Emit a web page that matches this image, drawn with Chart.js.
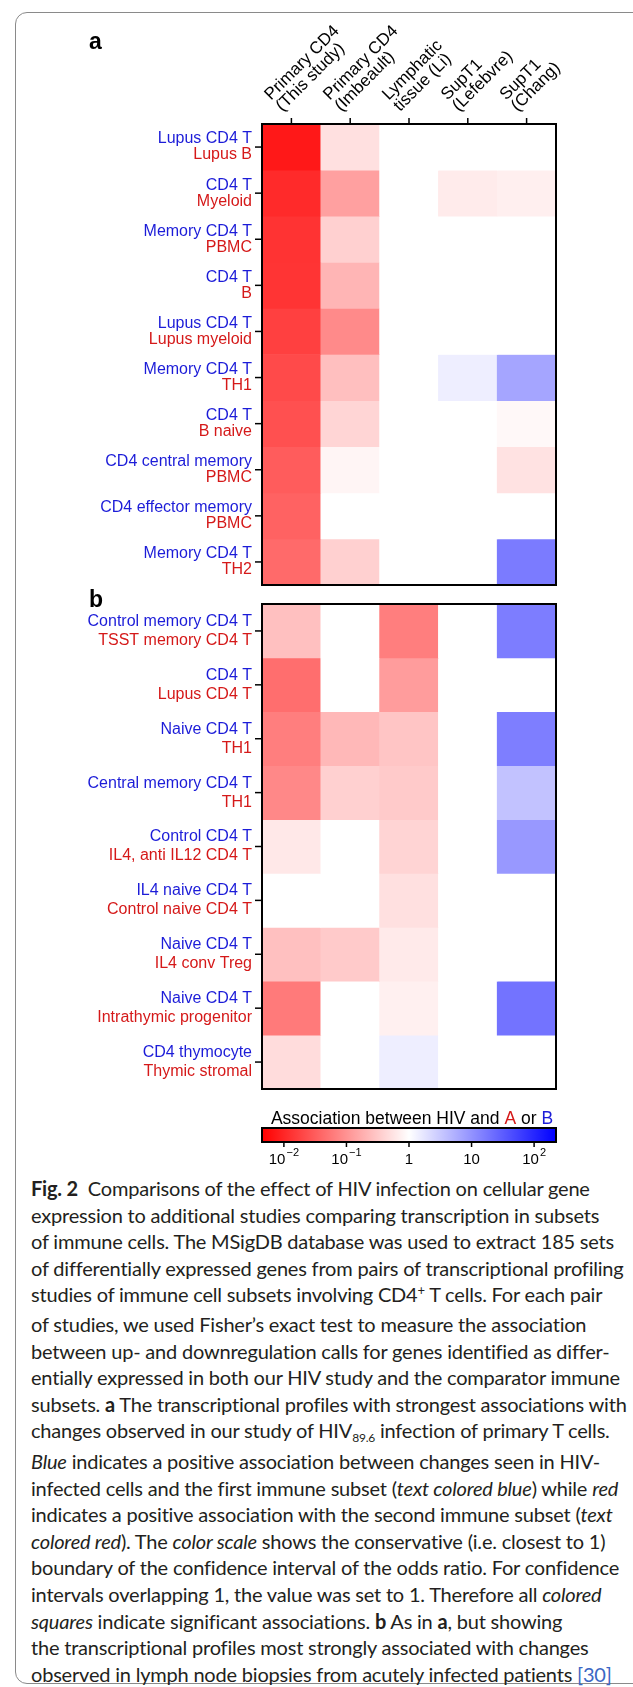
<!DOCTYPE html>
<html>
<head>
<meta charset="utf-8">
<title>Fig. 2</title>
<script src="https://cdn.jsdelivr.net/npm/chart.js@4.4.0/dist/chart.umd.min.js"></script>
<style>
    html, body { margin: 0; padding: 0; background: #fff; overflow: hidden; }
    #page { position: relative; width: 633px; height: 1687px; overflow: hidden; }
    #frame {
        position: absolute; left: 15px; top: 12px; width: 720px; height: 1672px;
        border: 1.5px solid #8a8a8a; border-radius: 12px; box-sizing: border-box;
    }
    canvas { position: absolute; left: 0; }
    #caption {
        position: absolute; left: 31px; top: 1175px;
        font-family: Lato, "Open Sans", sans-serif; font-size: 20px; line-height: 26.6px;
        color: #231f20; white-space: nowrap; letter-spacing: -0.2px;
    }
    #caption b { font-weight: 700; }
    #caption sup { font-size: 0.65em; position: relative; top: -0.55em; vertical-align: baseline; }
    #caption sub { font-size: 0.6em; position: relative; top: 0.3em; vertical-align: baseline; }
    #caption .ref { color: #3b67c4; }
</style>
</head>
<body>
<div id="page">
    <div id="frame"></div>
    <canvas id="chartA" width="633" height="600" style="top:0"></canvas>
    <canvas id="chartB" width="633" height="512" style="top:588px"></canvas>
    <canvas id="scaleBar" width="633" height="80" style="top:1095px"></canvas>
    <div id="caption">
<b>Fig. 2</b>&nbsp; Comparisons of the effect of HIV infection on cellular gene<br>
expression to additional studies comparing transcription in subsets<br>
of immune cells. The MSigDB database was used to extract 185 sets<br>
of differentially expressed genes from pairs of transcriptional profiling<br>
studies of immune cell subsets involving CD4<sup>+</sup> T cells. For each pair<br>
of studies, we used Fisher’s exact test to measure the association<br>
between up- and downregulation calls for genes identified as differ-<br>
entially expressed in both our HIV study and the comparator immune<br>
subsets. <b>a</b> The transcriptional profiles with strongest associations with<br>
changes observed in our study of HIV<sub>89.6</sub> infection of primary T cells.<br>
<i>Blue</i> indicates a positive association between changes seen in HIV-<br>
infected cells and the first immune subset (<i>text colored blue</i>) while <i>red</i><br>
indicates a positive association with the second immune subset (<i>text</i><br>
<i>colored red</i>). The <i>color scale</i> shows the conservative (i.e. closest to 1)<br>
boundary of the confidence interval of the odds ratio. For confidence<br>
intervals overlapping 1, the value was set to 1. Therefore all <i>colored</i><br>
<i>squares</i> indicate significant associations. <b>b</b> As in <b>a</b>, but showing<br>
the transcriptional profiles most strongly associated with changes<br>
observed in lymph node biopsies from acutely infected patients <span class="ref">[30]</span>
    </div>
</div>

<script>
// columns (studies compared against)
const studies = [
    ['Primary CD4', '(This study)'],
    ['Primary CD4', '(Imbeault)'],
    ['Lymphatic', 'tissue (Li)'],
    ['SupT1', '(Lefebvre)'],
    ['SupT1', '(Chang)']
];

// panel a: [first subset (blue), second subset (red)]
const rowsA = [
    ['Lupus CD4 T', 'Lupus B'],
    ['CD4 T', 'Myeloid'],
    ['Memory CD4 T', 'PBMC'],
    ['CD4 T', 'B'],
    ['Lupus CD4 T', 'Lupus myeloid'],
    ['Memory CD4 T', 'TH1'],
    ['CD4 T', 'B naive'],
    ['CD4 central memory', 'PBMC'],
    ['CD4 effector memory', 'PBMC'],
    ['Memory CD4 T', 'TH2']
];
// log10 of the conservative odds ratio bound, one value per study
const logA = [
    [-2.13, -0.29, 0, 0, 0],
    [-1.96, -0.88, 0, -0.18, -0.15],
    [-1.88, -0.43, 0, 0, 0],
    [-1.87, -0.68, 0, 0, 0],
    [-1.76, -1.08, 0, 0, 0],
    [-1.67, -0.59, 0, 0.16, 0.83],
    [-1.61, -0.39, 0, 0, -0.06],
    [-1.50, -0.09, 0, 0, -0.27],
    [-1.45, 0, 0, 0, 0],
    [-1.37, -0.43, 0, 0, 1.22]
];

// panel b
const rowsB = [
    ['Control memory CD4 T', 'TSST memory CD4 T'],
    ['CD4 T', 'Lupus CD4 T'],
    ['Naive CD4 T', 'TH1'],
    ['Central memory CD4 T', 'TH1'],
    ['Control CD4 T', 'IL4, anti IL12 CD4 T'],
    ['IL4 naive CD4 T', 'Control naive CD4 T'],
    ['Naive CD4 T', 'IL4 conv Treg'],
    ['Naive CD4 T', 'Intrathymic progenitor'],
    ['CD4 thymocyte', 'Thymic stromal']
];
const logB = [
    [-0.58, 0, -1.19, 0, 1.20],
    [-1.34, 0, -0.91, 0, 0],
    [-1.19, -0.65, -0.53, 0, 1.19],
    [-1.10, -0.43, -0.49, 0, 0.56],
    [-0.21, 0, -0.40, 0, 0.95],
    [0, 0, -0.29, 0, 0],
    [-0.58, -0.49, -0.19, 0, 0],
    [-1.23, 0, -0.14, 0, 1.29],
    [-0.32, 0, 0.16, 0, 0]
];

// colour scale (log10 units)
const scaleLimit = 2.35;
const scaleTicks = [-2, -1, 0, 1, 2];
const scaleTickLabels = [['10', '−2'], ['10', '−1'], ['1', ''], ['10', ''], ['10', '2']];

const BLUE_TXT = '#1c1cd8';
const RED_TXT = '#d51919';
const FONT = '"Liberation Sans", Arial, Helvetica, sans-serif';

function colorFor(v) {
    const t = Math.min(Math.abs(v) / scaleLimit, 1);
    const c = Math.round(255 * (1 - t));
    return v < 0 ? `rgb(255,${c},${c})` : `rgb(${c},${c},255)`;
}

function heatmapPlugin(rows, blueOff, redOff, showColumns, letter, letterY) {
    return {
        id: 'heatmapDecor',
        afterDraw(chart) {
            const { ctx, chartArea: ca, scales } = chart;
            ctx.save();
            ctx.strokeStyle = '#000';
            ctx.lineWidth = 2;
            ctx.strokeRect(ca.left, ca.top, ca.right - ca.left, ca.bottom - ca.top);

            // row ticks + two-coloured labels
            ctx.font = '16px ' + FONT;
            ctx.textAlign = 'right';
            ctx.textBaseline = 'middle';
            rows.forEach((r, i) => {
                const yc = scales.y.getPixelForValue(i + 0.5);
                ctx.lineWidth = 1.5;
                ctx.beginPath();
                ctx.moveTo(ca.left - 7, yc);
                ctx.lineTo(ca.left, yc);
                ctx.stroke();
                ctx.fillStyle = BLUE_TXT;
                ctx.fillText(r[0], ca.left - 10, yc + blueOff);
                ctx.fillStyle = RED_TXT;
                ctx.fillText(r[1], ca.left - 10, yc + redOff);
            });

            if (showColumns) {
                ctx.fillStyle = '#000';
                ctx.textAlign = 'left';
                ctx.font = '17px ' + FONT;
                studies.forEach((s, j) => {
                    const xc = scales.x.getPixelForValue(j);
                    ctx.lineWidth = 1.5;
                    ctx.beginPath();
                    ctx.moveTo(xc, ca.top - 6);
                    ctx.lineTo(xc, ca.top);
                    ctx.stroke();
                    ctx.save();
                    ctx.translate(xc - 18, ca.top - 21);
                    ctx.rotate(-Math.PI / 4);
                    ctx.fillText(s[0], 0, -8);
                    ctx.fillText(s[1], 0, 8);
                    ctx.restore();
                });
            }

            ctx.fillStyle = '#000';
            ctx.textAlign = 'left';
            ctx.textBaseline = 'alphabetic';
            ctx.font = 'bold 23px ' + FONT;
            ctx.fillText(letter, 89, letterY);
            ctx.restore();
        }
    };
}

function makeHeatmap(id, rows, values, pad, blueOff, redOff, showColumns, letter, letterY) {
    return new Chart(document.getElementById(id), {
        type: 'bar',
        data: {
            labels: studies.map(s => s.join(' ')),
            datasets: rows.map((r, i) => ({
                label: r.join(' / '),
                data: studies.map(() => [i, i + 1]),
                backgroundColor: values[i].map(colorFor)
            }))
        },
        options: {
            responsive: false,
            animation: false,
            layout: { padding: pad },
            datasets: { bar: { grouped: false, barPercentage: 1, categoryPercentage: 1, borderWidth: 0 } },
            plugins: { legend: { display: false }, tooltip: { enabled: false } },
            scales: {
                x: { display: false },
                y: { type: 'linear', min: 0, max: rows.length, reverse: true, display: false }
            }
        },
        plugins: [heatmapPlugin(rows, blueOff, redOff, showColumns, letter, letterY)]
    });
}

makeHeatmap('chartA', rowsA, logA, { left: 262, right: 77, top: 124, bottom: 15 }, -8, 8, true, 'a', 49);
makeHeatmap('chartB', rowsB, logB, { left: 262, right: 77, top: 16, bottom: 11 }, -9.5, 9.5, false, 'b', 19);

// colour scale bar
const scaleDecor = {
    id: 'scaleDecor',
    afterDraw(chart) {
        const { ctx, chartArea: ca, scales } = chart;
        ctx.save();
        ctx.strokeStyle = '#000';
        ctx.lineWidth = 2;
        ctx.strokeRect(ca.left, ca.top, ca.right - ca.left, ca.bottom - ca.top);

        // title with coloured A / B
        const parts = [['Association between HIV and ', '#000'], ['A', RED_TXT], [' or ', '#000'], ['B', BLUE_TXT]];
        ctx.font = '17.5px ' + FONT;
        ctx.textBaseline = 'alphabetic';
        ctx.textAlign = 'left';
        const total = parts.reduce((w, p) => w + ctx.measureText(p[0]).width, 0);
        let x = (ca.left + ca.right) / 2 + 3 - total / 2;
        parts.forEach(p => {
            ctx.fillStyle = p[1];
            ctx.fillText(p[0], x, ca.top - 4);
            x += ctx.measureText(p[0]).width;
        });

        ctx.fillStyle = '#000';
        ctx.lineWidth = 1.5;
        scaleTicks.forEach((v, i) => {
            const px = scales.x.getPixelForValue(v);
            ctx.beginPath();
            ctx.moveTo(px, ca.bottom);
            ctx.lineTo(px, ca.bottom + 5);
            ctx.stroke();
            const [base, exp] = scaleTickLabels[i];
            ctx.font = '15px ' + FONT;
            const bw = ctx.measureText(base).width;
            ctx.font = '11px ' + FONT;
            const ew = exp ? ctx.measureText(exp).width + 1 : 0;
            const sx = px - (bw + ew) / 2;
            ctx.font = '15px ' + FONT;
            ctx.fillText(base, sx, ca.bottom + 22);
            if (exp) {
                ctx.font = '11px ' + FONT;
                ctx.fillText(exp, sx + bw + 1, ca.bottom + 14);
            }
        });
        ctx.restore();
    }
};

new Chart(document.getElementById('scaleBar'), {
    type: 'bar',
    data: {
        labels: ['scale'],
        datasets: [{
            data: [[-scaleLimit, scaleLimit]],
            backgroundColor: (c) => {
                const ca = c.chart.chartArea;
                if (!ca) return '#fff';
                const g = c.chart.ctx.createLinearGradient(ca.left, 0, ca.right, 0);
                g.addColorStop(0, colorFor(-scaleLimit));
                g.addColorStop(0.5, colorFor(0));
                g.addColorStop(1, colorFor(scaleLimit));
                return g;
            }
        }]
    },
    options: {
        indexAxis: 'y',
        responsive: false,
        animation: false,
        layout: { padding: { left: 262, right: 77, top: 33, bottom: 33 } },
        datasets: { bar: { barPercentage: 1, categoryPercentage: 1, borderWidth: 0 } },
        plugins: { legend: { display: false }, tooltip: { enabled: false } },
        scales: {
            x: { type: 'linear', min: -scaleLimit, max: scaleLimit, display: false },
            y: { display: false }
        }
    },
    plugins: [scaleDecor]
});
</script>
</body>
</html>
